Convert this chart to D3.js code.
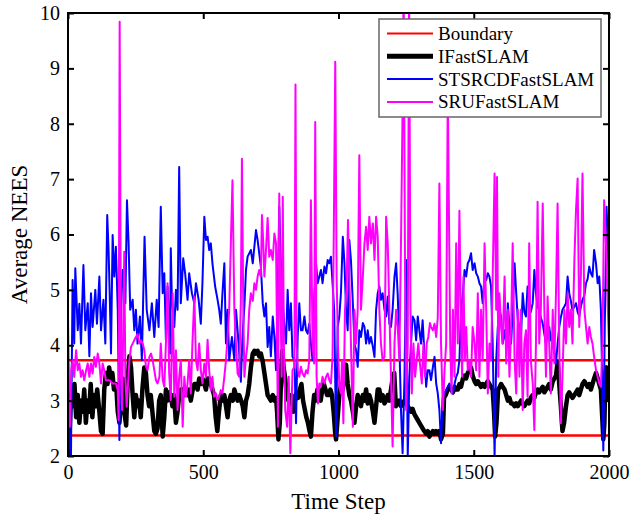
<!DOCTYPE html>
<html>
<head>
<meta charset="utf-8">
<script src="https://cdn.jsdelivr.net/npm/d3@7/dist/d3.min.js"></script>
<style>
body { margin: 0; background: #fff; }
text { font-family: "Liberation Serif", "Times New Roman", serif; fill: #000; }
</style>
</head>
<body>
<div id="chart"></div>
<script>
// ---- data: [time step, average NEES] ----
var seriesNames = ["Boundary", "IFastSLAM", "STSRCDFastSLAM", "SRUFastSLAM"];
var xTicks = [0, 500, 1000, 1500, 2000];
var yTicks = [2, 3, 4, 5, 6, 7, 8, 9, 10];

var boundaryUpper = [[0, 3.73], [2000, 3.73]];
var boundaryLower = [[0, 2.37], [2000, 2.37]];

var ifastData = [[0,3.0],[5,2.3],[11,3.1],[17,2.9],[24,3.3],[30,2.7],[36,3.1],[42,2.6],[48,3.0],[54,2.8],[60,3.2],[66,2.6],[72,3.0],[78,2.8],[84,3.3],[90,2.7],[96,3.1],[102,2.9],[108,3.2],[116,2.8],[122,2.45],[128,2.4],[134,3.2],[140,3.5],[146,3.3],[152,3.6],[158,3.4],[164,3.5],[170,3.2],[178,3.3],[184,2.8],[190,2.6],[196,3.0],[202,3.4],[208,2.8],[215,2.55],[221,3.4],[227,3.8],[233,3.6],[239,3.1],[245,2.7],[251,3.1],[257,2.9],[263,3.0],[269,2.7],[275,3.2],[282,3.6],[288,3.5],[294,3.1],[300,2.9],[306,3.1],[312,2.8],[319,2.45],[325,2.4],[331,2.5],[337,3.0],[343,3.1],[350,2.35],[356,2.7],[362,3.2],[368,3.0],[374,3.15],[380,3.1],[386,2.9],[392,3.1],[399,2.6],[405,2.8],[411,3.1],[417,3.2],[424,3.2],[430,3.1],[436,3.2],[442,3.1],[448,3.2],[454,3.0],[461,3.2],[467,3.3],[473,3.3],[479,3.2],[485,3.4],[491,3.3],[497,3.4],[504,3.3],[510,3.2],[516,3.4],[522,3.4],[528,3.3],[534,3.2],[540,3.1],[546,2.7],[552,2.45],[558,2.8],[565,3.1],[571,3.0],[578,3.1],[584,2.9],[590,2.7],[596,3.0],[602,3.1],[609,3.0],[615,3.2],[621,3.1],[627,3.0],[633,3.1],[640,3.0],[646,2.9],[652,2.7],[658,3.0],[664,3.1],[670,3.3],[676,3.6],[683,3.85],[689,3.9],[695,3.85],[701,3.9],[707,3.8],[713,3.85],[720,3.7],[726,3.5],[732,3.3],[738,3.1],[744,3.05],[750,3.0],[757,3.1],[763,3.0],[769,3.05],[773,2.8],[778,2.3],[783,2.6],[788,3.5],[792,3.9],[797,3.6],[803,3.4],[809,3.1],[815,3.0],[821,2.95],[827,3.1],[833,2.8],[839,3.0],[845,3.15],[851,3.05],[857,3.2],[863,3.3],[869,3.0],[875,2.85],[881,2.7],[887,2.6],[893,2.45],[898,2.35],[904,2.8],[910,3.1],[916,3.0],[922,3.2],[928,3.1],[934,3.0],[940,3.2],[946,3.3],[952,3.2],[958,3.1],[964,3.1],[970,3.2],[976,3.1],[982,2.8],[988,2.4],[991,2.3],[997,2.7],[1003,3.1],[1009,3.3],[1016,3.2],[1022,3.5],[1028,3.65],[1034,3.3],[1040,3.1],[1046,3.0],[1053,2.8],[1059,2.6],[1065,2.9],[1071,3.1],[1077,3.0],[1083,2.9],[1090,3.1],[1096,3.0],[1102,3.2],[1108,2.95],[1114,3.1],[1120,3.0],[1127,2.8],[1133,2.6],[1139,2.9],[1145,3.2],[1151,3.2],[1157,3.0],[1163,3.1],[1170,2.95],[1176,3.0],[1182,3.1],[1188,3.0],[1194,3.2],[1200,3.4],[1206,3.5],[1212,2.9],[1219,2.95],[1225,3.0],[1231,2.9],[1237,2.95],[1244,3.0],[1250,2.95],[1256,2.9],[1262,2.85],[1268,2.8],[1274,2.85],[1281,2.75],[1287,2.7],[1293,2.65],[1299,2.6],[1305,2.55],[1311,2.5],[1317,2.45],[1324,2.4],[1330,2.45],[1336,2.35],[1342,2.4],[1349,2.45],[1355,2.4],[1361,2.45],[1367,2.4],[1373,2.45],[1379,2.3],[1386,2.4],[1390,3.05],[1396,3.1],[1404,3.2],[1410,3.25],[1416,3.2],[1423,3.15],[1429,3.25],[1435,3.2],[1441,3.2],[1447,3.3],[1453,3.25],[1460,3.4],[1466,3.45],[1472,3.4],[1478,3.5],[1484,3.55],[1490,3.6],[1496,3.45],[1503,3.35],[1509,3.3],[1515,3.35],[1521,3.3],[1527,3.25],[1533,3.3],[1540,3.25],[1546,3.3],[1552,3.35],[1558,3.3],[1564,3.25],[1570,3.2],[1575,2.8],[1579,2.35],[1584,2.6],[1590,3.2],[1596,3.25],[1601,3.3],[1607,3.25],[1614,3.2],[1620,3.1],[1626,3.0],[1632,3.05],[1638,2.95],[1644,2.95],[1651,2.9],[1657,2.95],[1663,2.9],[1669,2.95],[1675,3.0],[1681,2.95],[1687,2.9],[1693,2.95],[1699,3.0],[1705,2.95],[1711,3.05],[1718,3.1],[1724,3.05],[1730,3.15],[1736,3.2],[1742,3.15],[1748,3.2],[1755,3.25],[1761,3.15],[1767,3.2],[1773,3.25],[1779,3.3],[1785,3.2],[1792,3.35],[1798,3.4],[1804,3.45],[1810,3.7],[1816,3.3],[1822,2.9],[1828,2.45],[1834,2.6],[1841,2.9],[1847,3.1],[1853,3.15],[1859,3.1],[1865,3.05],[1872,3.1],[1878,3.15],[1884,3.2],[1890,3.1],[1896,3.2],[1902,3.3],[1909,3.35],[1915,3.3],[1921,3.25],[1927,3.3],[1933,3.2],[1939,3.3],[1945,3.4],[1952,3.5],[1958,3.4],[1964,3.3],[1970,3.2],[1975,2.7],[1979,2.3],[1983,2.6],[1987,3.5],[1991,3.6],[1996,3.2],[2000,3.0]];

var stsrcdData = [[0,4.5],[5,2.05],[11,2.0],[17,5.18],[23,4.03],[27,5.39],[36,4.27],[42,4.75],[48,4.03],[57,5.45],[64,4.27],[73,4.76],[79,3.8],[85,4.94],[91,4.33],[101,5.0],[107,4.39],[116,5.24],[122,4.27],[131,4.82],[138,4.03],[145,6.35],[150,5.72],[155,4.76],[159,3.85],[165,5.99],[171,5.24],[177,5.78],[184,4.64],[190,2.29],[196,4.64],[202,5.36],[212,4.76],[218,6.62],[224,5.84],[230,4.64],[239,4.82],[245,4.27],[251,4.64],[257,4.03],[266,4.52],[273,3.73],[283,5.96],[291,4.64],[301,4.27],[310,4.76],[319,4.15],[328,4.82],[335,4.33],[343,6.5],[350,4.94],[356,5.3],[362,4.09],[368,5.06],[377,3.85],[380,5.75],[384,4.82],[393,4.33],[399,5.0],[405,4.64],[411,7.22],[417,4.76],[426,5.57],[433,5.3],[442,4.82],[448,5.3],[458,4.94],[467,4.76],[473,5.12],[483,4.82],[491,4.39],[497,5.12],[504,6.32],[510,5.9],[516,5.96],[522,5.72],[528,5.84],[534,5.48],[544,5.06],[553,4.82],[559,4.64],[565,4.39],[571,4.94],[578,5.48],[584,4.03],[590,4.64],[596,3.73],[606,4.15],[615,3.73],[621,4.64],[627,4.27],[633,3.85],[639,3.34],[645,4.15],[652,4.7],[658,5.36],[664,5.6],[670,5.66],[676,5.72],[683,5.48],[689,5.78],[695,6.08],[701,5.9],[707,5.66],[713,5.42],[720,4.76],[726,4.52],[732,4.76],[738,3.97],[744,4.33],[750,3.8],[757,4.52],[763,4.15],[769,3.55],[775,4.9],[781,6.5],[786,5.6],[794,4.76],[800,4.33],[806,4.03],[812,5.0],[818,4.27],[824,4.76],[830,3.79],[837,3.73],[843,2.59],[849,4.15],[855,4.76],[861,4.27],[867,4.27],[874,4.52],[880,4.27],[886,4.21],[892,4.39],[898,4.03],[904,3.73],[910,4.82],[917,5.48],[923,5.12],[929,5.24],[935,5.36],[941,5.12],[948,5.42],[954,5.3],[960,5.54],[966,5.48],[972,5.6],[978,5.12],[984,4.64],[991,2.35],[997,4.33],[1003,4.52],[1009,4.94],[1016,5.96],[1022,5.48],[1028,4.64],[1034,4.27],[1040,5.9],[1046,5.54],[1053,4.76],[1059,4.03],[1065,3.91],[1071,3.61],[1077,4.27],[1083,4.15],[1090,4.4],[1096,4.33],[1102,4.03],[1108,4.27],[1114,4.03],[1120,4.15],[1127,3.97],[1133,3.79],[1139,4.64],[1145,4.94],[1151,5.06],[1157,4.82],[1163,4.94],[1170,4.64],[1176,4.52],[1182,4.88],[1188,4.39],[1194,4.33],[1200,4.64],[1207,5.24],[1213,5.48],[1219,4.9],[1225,4.03],[1231,2.83],[1237,2.05],[1244,3.43],[1250,5.54],[1256,2.0],[1262,3.43],[1268,4.03],[1274,4.52],[1281,4.45],[1287,4.09],[1293,4.52],[1299,4.27],[1305,4.03],[1311,4.45],[1317,3.91],[1324,3.25],[1330,3.55],[1336,3.55],[1342,3.37],[1349,3.61],[1355,3.79],[1361,3.31],[1367,3.13],[1373,2.83],[1379,2.23],[1386,3.07],[1392,3.13],[1398,3.19],[1404,3.25],[1410,3.31],[1416,3.2],[1423,3.13],[1429,3.3],[1435,3.43],[1441,3.5],[1447,3.73],[1453,4.64],[1460,4.94],[1466,5.36],[1472,5.24],[1478,5.48],[1484,5.54],[1490,5.66],[1496,5.36],[1503,5.48],[1509,5.3],[1515,5.24],[1521,5.12],[1527,5.06],[1533,4.76],[1540,5.24],[1546,5.18],[1552,5.3],[1558,5.24],[1564,5.06],[1570,4.03],[1577,2.0],[1583,3.73],[1589,4.33],[1595,4.64],[1601,4.52],[1607,4.03],[1614,4.27],[1620,4.03],[1626,4.76],[1632,4.33],[1638,4.03],[1644,4.64],[1651,5.48],[1657,4.94],[1663,4.45],[1669,4.33],[1675,4.2],[1681,4.94],[1687,4.6],[1693,4.52],[1699,5.06],[1705,4.88],[1711,4.6],[1718,4.76],[1724,5.36],[1730,4.94],[1736,4.7],[1742,4.64],[1748,4.5],[1755,4.39],[1761,4.2],[1767,4.03],[1773,4.2],[1779,4.33],[1785,4.1],[1792,4.03],[1798,3.9],[1804,3.67],[1810,4.03],[1816,4.33],[1822,4.5],[1828,4.64],[1835,4.7],[1841,4.76],[1847,5.24],[1853,4.94],[1859,4.8],[1865,4.64],[1872,4.7],[1878,4.76],[1884,4.6],[1890,4.52],[1896,4.7],[1902,4.82],[1909,4.9],[1915,5.12],[1921,5.2],[1927,5.42],[1933,5.3],[1939,5.24],[1945,5.72],[1952,5.48],[1958,5.12],[1964,5.24],[1970,4.64],[1975,3.4],[1979,2.1],[1984,4.2],[1988,5.5],[1991,6.5],[1996,5.84],[2000,4.6]];

var sruData = [[0,3.85],[2,2.77],[7,2.53],[12,3.55],[17,3.73],[23,3.43],[30,3.91],[36,3.55],[42,3.67],[48,3.43],[54,3.55],[60,3.37],[67,3.55],[73,3.67],[79,3.43],[85,3.67],[91,3.49],[97,3.79],[103,3.61],[110,3.85],[116,3.67],[122,3.31],[128,3.67],[134,3.55],[140,3.37],[153,3.37],[165,3.31],[177,3.31],[184,3.19],[187,2.65],[191,9.84],[196,3.43],[200,2.83],[205,4.64],[208,5.69],[212,3.43],[217,2.89],[222,3.31],[227,3.73],[233,3.97],[239,4.03],[245,4.09],[251,4.15],[257,4.2],[264,4.03],[270,4.09],[276,4.03],[282,3.91],[288,3.62],[294,3.55],[301,3.79],[307,3.85],[313,3.73],[319,3.55],[325,3.37],[331,3.31],[338,3.43],[343,4.03],[350,3.37],[356,3.25],[362,4.03],[368,5.12],[374,3.49],[380,3.01],[387,4.94],[393,3.07],[399,3.91],[405,2.83],[411,3.43],[417,3.73],[424,2.53],[430,3.43],[436,3.07],[442,3.31],[448,3.73],[454,3.13],[460,4.03],[467,4.88],[473,3.73],[479,3.55],[485,4.03],[491,3.55],[497,3.31],[504,3.67],[510,3.43],[516,4.1],[522,3.55],[528,3.19],[534,3.43],[540,3.07],[547,3.13],[553,3.01],[559,3.07],[565,3.19],[571,3.13],[578,3.43],[584,3.73],[590,4.15],[596,4.64],[602,5.84],[608,6.98],[615,4.64],[621,4.03],[627,3.49],[633,3.43],[639,4.82],[643,7.37],[648,4.64],[652,3.43],[658,3.79],[664,4.03],[670,4.64],[676,4.94],[683,4.8],[689,5.12],[695,5.0],[701,5.24],[707,5.36],[713,5.24],[717,6.35],[722,5.84],[726,5.24],[732,5.72],[738,6.3],[744,5.6],[750,5.72],[757,5.54],[763,6.02],[769,5.84],[773,4.03],[776,2.53],[781,6.74],[785,4.94],[790,3.43],[794,6.68],[798,4.03],[803,2.83],[810,2.53],[816,3.43],[822,2.05],[830,3.55],[837,3.61],[841,8.71],[845,4.03],[850,3.55],[855,3.43],[861,3.61],[867,3.49],[874,3.43],[880,3.55],[886,3.49],[892,3.73],[898,6.62],[904,4.03],[910,3.67],[914,8.03],[919,3.43],[924,2.95],[929,3.31],[935,3.25],[941,3.43],[948,3.31],[954,3.43],[960,3.49],[966,3.37],[972,3.31],[978,3.79],[982,5.72],[988,9.12],[993,5.24],[998,4.03],[1003,3.25],[1009,3.13],[1013,3.73],[1018,2.59],[1024,4.64],[1030,5.06],[1035,6.26],[1040,5.24],[1046,4.03],[1053,2.53],[1059,4.64],[1065,4.03],[1071,4.64],[1077,7.43],[1083,4.64],[1090,5.24],[1096,5.84],[1102,6.14],[1108,5.72],[1114,6.32],[1120,5.84],[1127,6.2],[1133,5.54],[1139,6.32],[1145,5.96],[1151,4.64],[1157,4.03],[1163,3.73],[1170,3.79],[1176,6.32],[1182,5.84],[1188,4.64],[1194,3.43],[1200,2.17],[1207,4.03],[1213,4.64],[1219,4.33],[1225,3.73],[1231,5.84],[1237,8.3],[1241,10.6],[1246,5.24],[1250,2.83],[1256,4.03],[1261,10.6],[1266,4.64],[1271,3.13],[1277,4.03],[1283,3.43],[1289,3.73],[1295,4.03],[1301,3.67],[1308,3.31],[1314,4.03],[1320,3.43],[1326,4.03],[1332,4.15],[1338,4.4],[1342,4.33],[1349,4.27],[1355,4.39],[1361,4.15],[1367,4.5],[1373,6.92],[1379,4.03],[1386,2.83],[1392,3.55],[1398,4.03],[1404,8.6],[1413,4.03],[1418,3.13],[1423,4.64],[1429,3.43],[1435,5.84],[1441,4.03],[1447,6.43],[1452,4.64],[1457,3.43],[1462,5.24],[1467,3.73],[1472,4.33],[1478,3.55],[1484,3.73],[1490,3.43],[1496,4.33],[1503,4.03],[1509,3.55],[1515,4.94],[1521,3.43],[1527,4.64],[1533,3.73],[1540,5.84],[1546,4.64],[1552,3.13],[1558,4.03],[1564,3.73],[1570,5.24],[1577,7.1],[1583,4.64],[1586,7.04],[1591,3.43],[1595,4.94],[1601,4.33],[1607,4.03],[1614,5.24],[1620,3.67],[1626,4.64],[1632,3.43],[1638,4.33],[1644,5.84],[1651,3.73],[1657,3.13],[1663,4.64],[1669,3.43],[1674,4.64],[1681,2.83],[1687,4.03],[1693,4.27],[1699,3.07],[1705,5.84],[1711,3.73],[1718,3.31],[1724,2.47],[1730,4.03],[1736,6.59],[1742,4.03],[1748,4.64],[1755,6.56],[1761,4.64],[1767,3.43],[1773,4.88],[1779,4.03],[1785,3.13],[1792,4.64],[1798,3.67],[1804,4.94],[1810,6.56],[1816,4.03],[1822,2.59],[1828,3.43],[1835,4.64],[1841,4.03],[1847,4.94],[1853,4.33],[1859,4.64],[1865,4.03],[1872,5.54],[1878,6.44],[1884,7.01],[1890,4.33],[1896,5.24],[1902,7.1],[1909,4.64],[1915,4.33],[1921,4.03],[1927,4.33],[1933,4.15],[1939,4.03],[1945,3.79],[1952,3.55],[1958,3.43],[1964,3.31],[1970,3.25],[1976,4.03],[1982,6.62],[1989,5.84],[1995,4.76],[2000,4.03]];

// ---- layout ----
var margin = { top: 13, right: 21, bottom: 58, left: 68 };
var svgWidth = 630, svgHeight = 514;
var width = svgWidth - margin.left - margin.right;
var height = svgHeight - margin.top - margin.bottom;

var svg = d3.select("#chart").append("svg")
    .attr("width", svgWidth)
    .attr("height", svgHeight);

var g = svg.append("g")
    .attr("transform", "translate(" + margin.left + "," + margin.top + ")");

var xScale = d3.scaleLinear().domain([0, 2000]).range([0, width]);
var yScale = d3.scaleLinear().domain([2, 10]).range([height, 0]);

g.append("clipPath").attr("id", "plotClip")
    .append("rect").attr("width", width).attr("height", height);

var line = d3.line()
    .x(function (d) { return xScale(d[0]); })
    .y(function (d) { return yScale(d[1]); });

// drawn in the same order as the original figure
var lines = [
    { data: boundaryLower, color: "#ff0000", width: 2.5 },
    { data: boundaryUpper, color: "#ff0000", width: 2.5 },
    { data: ifastData, color: "#000000", width: 4.5 },
    { data: stsrcdData, color: "#0000ff", width: 2 },
    { data: sruData, color: "#ff00ff", width: 2 }
];

var plot = g.append("g").attr("clip-path", "url(#plotClip)");
lines.forEach(function (l) {
    plot.append("path")
        .datum(l.data)
        .attr("fill", "none")
        .attr("stroke", l.color)
        .attr("stroke-width", l.width)
        .attr("stroke-linejoin", "round")
        .attr("d", line);
});

// ---- axes (box with inward ticks on all sides) ----
var tickLen = 6;
var xAxis = d3.axisBottom(xScale).tickValues(xTicks).tickFormat(d3.format("d"))
    .tickSizeInner(-tickLen).tickSizeOuter(0).tickPadding(9);
var yAxis = d3.axisLeft(yScale).tickValues(yTicks).tickFormat(d3.format("d"))
    .tickSizeInner(-tickLen).tickSizeOuter(0).tickPadding(8);

g.append("g").attr("transform", "translate(0," + height + ")").call(xAxis);
g.append("g").call(yAxis);
g.append("g").call(d3.axisTop(xScale).tickValues(xTicks).tickSizeInner(-tickLen).tickSizeOuter(0).tickFormat(""));
g.append("g").attr("transform", "translate(" + width + ",0)")
    .call(d3.axisRight(yScale).tickValues(yTicks).tickSizeInner(-tickLen).tickSizeOuter(0).tickFormat(""));

g.selectAll(".domain").remove();
g.selectAll(".tick line").attr("stroke", "#000").attr("stroke-width", 2);
g.selectAll(".tick text").attr("font-size", 20).attr("fill", "#000");

g.append("rect")
    .attr("width", width)
    .attr("height", height)
    .attr("fill", "none")
    .attr("stroke", "#000")
    .attr("stroke-width", 2);

// axis titles
svg.append("text")
    .attr("x", margin.left + width / 2)
    .attr("y", 509)
    .attr("text-anchor", "middle")
    .attr("font-size", 23)
    .text("Time Step");

svg.append("text")
    .attr("transform", "translate(27," + (margin.top + height / 2) + ") rotate(-90)")
    .attr("text-anchor", "middle")
    .attr("font-size", 23)
    .text("Average NEES");

// ---- legend ----
var legendColors = ["#ff0000", "#000000", "#0000ff", "#ff00ff"];
var legendWidths = [2, 5, 2, 2];
var legend = svg.append("g").attr("transform", "translate(379,19)");
legend.append("rect")
    .attr("width", 222)
    .attr("height", 98)
    .attr("fill", "#fff")
    .attr("stroke", "#666")
    .attr("stroke-width", 1.5);

seriesNames.forEach(function (name, i) {
    var yy = 14.5 + i * 22.8;
    legend.append("line")
        .attr("x1", 8).attr("x2", 54)
        .attr("y1", yy).attr("y2", yy)
        .attr("stroke", legendColors[i])
        .attr("stroke-width", legendWidths[i]);
    legend.append("text")
        .attr("x", 59)
        .attr("y", yy + 6.5)
        .attr("font-size", 19)
        .text(name);
});
</script>
</body>
</html>
